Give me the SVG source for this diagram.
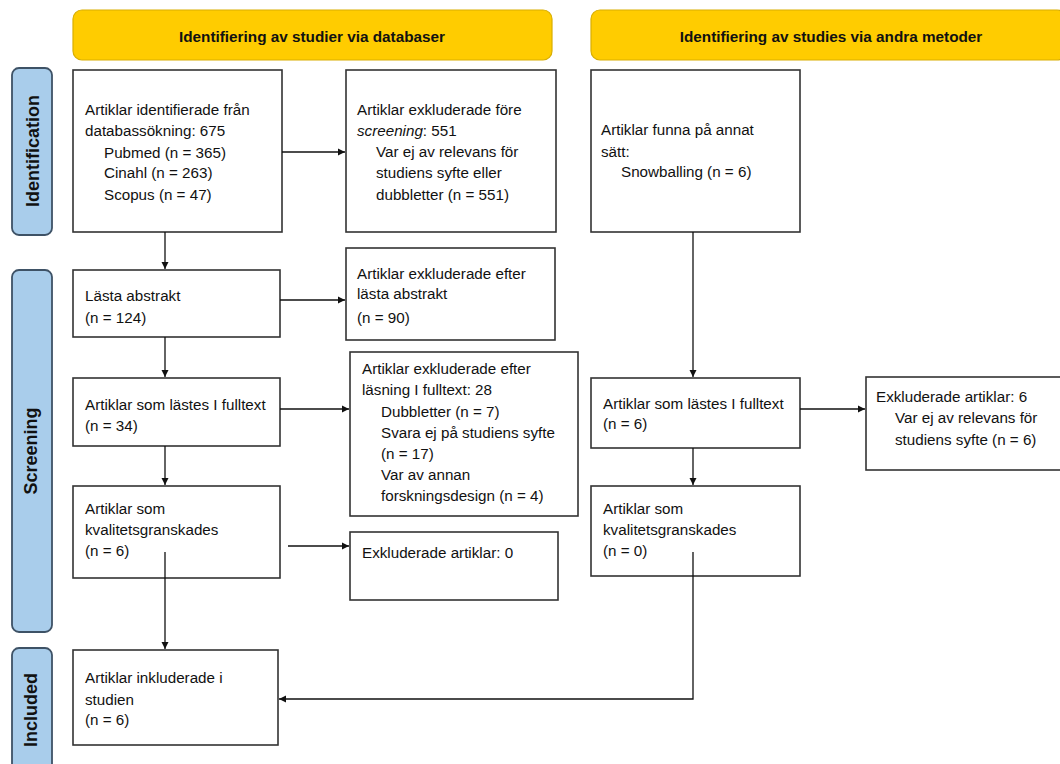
<svg xmlns="http://www.w3.org/2000/svg" width="1060" height="764" viewBox="0 0 1060 764">
<style>
.hdr{fill:#FFCC00;stroke:#D9AE00;stroke-width:1.2}
.side{fill:#A9CDEB;stroke:#3E5266;stroke-width:1.8}
.box{fill:#fff;stroke:#333;stroke-width:1.6}
text{font-family:"Liberation Sans",Arial,sans-serif;font-size:15.2px;fill:#111}
.ht{font-weight:bold;font-size:15.3px;text-anchor:middle}
.st{font-weight:bold;font-size:18px;text-anchor:middle}
.con{stroke:#111;stroke-width:1.3;fill:none}
</style>
<defs>
<marker id="arr" markerWidth="8" markerHeight="8" refX="7" refY="4" orient="auto" markerUnits="userSpaceOnUse">
<path d="M0,0.5 L7,4 L0,7.5 Z" fill="#111"/>
</marker>
</defs>
<rect width="1060" height="764" fill="#fff"/>

<g id="header-db"><rect class="hdr" x="73" y="10" width="479" height="50" rx="9"/><text class="ht" x="312" y="42">Identifiering av studier via databaser</text></g>
<g id="header-other"><rect class="hdr" x="591" y="10" width="475" height="50" rx="9"/><text class="ht" x="831" y="42">Identifiering av studies via andra metoder</text></g>

<g id="side-identification"><rect class="side" x="12" y="68" width="40" height="167" rx="7"/><text class="st" transform="translate(38.5,151) rotate(-90)">Identification</text></g>
<g id="side-screening"><rect class="side" x="12" y="270" width="40" height="362" rx="7"/><text class="st" transform="translate(37,451) rotate(-90)">Screening</text></g>
<g id="side-included"><rect class="side" x="12" y="648" width="40" height="130" rx="7"/><text class="st" transform="translate(37,710) rotate(-90)">Included</text></g>

<g id="n-identified"><rect class="box" x="73" y="70" width="209" height="162"/>
<text x="85" y="115">Artiklar identifierade från</text>
<text x="85" y="136">databassökning: 675</text>
<text x="104" y="158">Pubmed (n = 365)</text>
<text x="104" y="178">Cinahl (n = 263)</text>
<text x="104" y="200">Scopus (n = 47)</text></g>

<g id="n-excl-before"><rect class="box" x="346" y="70" width="210" height="162"/>
<text x="357" y="115">Artiklar exkluderade före</text>
<text x="357" y="136"><tspan font-style="italic">screening</tspan>: 551</text>
<text x="376" y="157">Var ej av relevans för</text>
<text x="376" y="178">studiens syfte eller</text>
<text x="376" y="200">dubbletter (n = 551)</text></g>

<g id="n-other"><rect class="box" x="591" y="70" width="209" height="162"/>
<text x="601" y="135">Artiklar funna på annat</text>
<text x="601" y="157">sätt:</text>
<text x="621" y="177">Snowballing (n = 6)</text></g>

<g id="n-abstract"><rect class="box" x="73" y="270" width="207" height="67"/>
<text x="85" y="301">Lästa abstrakt</text>
<text x="85" y="323">(n = 124)</text></g>

<g id="n-excl-abstract"><rect class="box" x="346" y="248" width="209" height="92"/>
<text x="357" y="279">Artiklar exkluderade efter</text>
<text x="357" y="299">lästa abstrakt</text>
<text x="357" y="323">(n = 90)</text></g>

<g id="n-fulltext"><rect class="box" x="73" y="378" width="207" height="68"/>
<text x="85" y="410">Artiklar som lästes I fulltext</text>
<text x="85" y="431">(n = 34)</text></g>

<g id="n-excl-fulltext"><rect class="box" x="350" y="352" width="228" height="164"/>
<text x="362" y="374">Artiklar exkluderade efter</text>
<text x="362" y="395">läsning I fulltext: 28</text>
<text x="381" y="417">Dubbletter (n = 7)</text>
<text x="381" y="438">Svara ej på studiens syfte</text>
<text x="381" y="459">(n = 17)</text>
<text x="381" y="480">Var av annan</text>
<text x="381" y="501">forskningsdesign (n = 4)</text></g>

<g id="n-quality"><rect class="box" x="73" y="486" width="207" height="92"/>
<text x="85" y="514">Artiklar som</text>
<text x="85" y="535">kvalitetsgranskades</text>
<text x="85" y="556">(n = 6)</text></g>

<g id="n-excl-0"><rect class="box" x="350" y="532" width="208" height="68"/>
<text x="362" y="558">Exkluderade artiklar: 0</text></g>

<g id="n-included"><rect class="box" x="73" y="650" width="205" height="95"/>
<text x="85" y="683">Artiklar inkluderade i</text>
<text x="85" y="705">studien</text>
<text x="85" y="725">(n = 6)</text></g>

<g id="n-fulltext-other"><rect class="box" x="591" y="378" width="209" height="70"/>
<text x="603" y="409">Artiklar som lästes I fulltext</text>
<text x="603" y="429">(n = 6)</text></g>

<g id="n-excl-6"><rect class="box" x="866" y="377" width="200" height="93"/>
<text x="876" y="402">Exkluderade artiklar: 6</text>
<text x="895" y="423">Var ej av relevans för</text>
<text x="895" y="445">studiens syfte (n = 6)</text></g>

<g id="n-quality-other"><rect class="box" x="591" y="486" width="209" height="90"/>
<text x="603" y="514">Artiklar som</text>
<text x="603" y="535">kvalitetsgranskades</text>
<text x="603" y="556">(n = 0)</text></g>

<g id="connectors">
<path class="con" marker-end="url(#arr)" d="M165,232 V269"/>
<path class="con" marker-end="url(#arr)" d="M282,152 H345"/>
<path class="con" marker-end="url(#arr)" d="M280,300 H345"/>
<path class="con" marker-end="url(#arr)" d="M165,337 V377"/>
<path class="con" marker-end="url(#arr)" d="M280,409 H349"/>
<path class="con" marker-end="url(#arr)" d="M165,446 V485"/>
<path class="con" marker-end="url(#arr)" d="M288,546 H349"/>
<path class="con" marker-end="url(#arr)" d="M165,552 V649"/>
<path class="con" marker-end="url(#arr)" d="M693,232 V377"/>
<path class="con" marker-end="url(#arr)" d="M800,409 H865"/>
<path class="con" marker-end="url(#arr)" d="M693,448 V485"/>
<path class="con" marker-end="url(#arr)" d="M693,552 V699 H279"/>
</g>
</svg>
